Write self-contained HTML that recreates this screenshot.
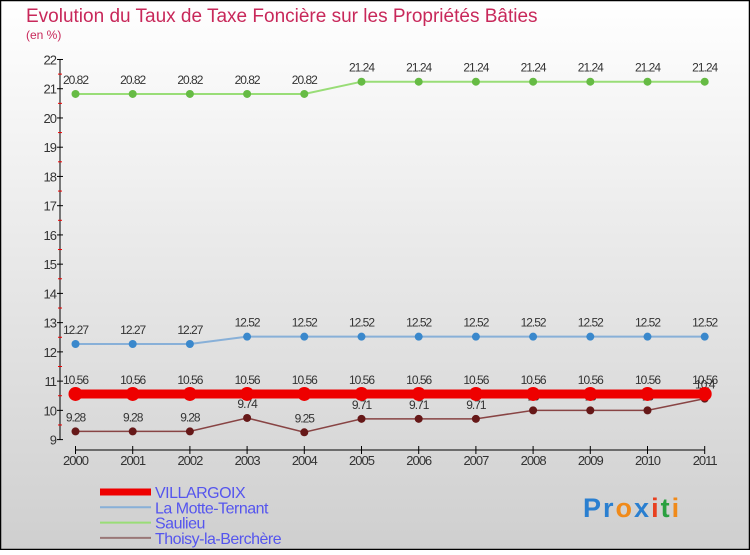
<!DOCTYPE html>
<html><head><meta charset="utf-8"><style>
html,body{margin:0;padding:0}
body{width:750px;height:550px;overflow:hidden;font-family:"Liberation Sans",sans-serif}
</style></head><body>
<svg id="chart" width="750" height="550" xmlns="http://www.w3.org/2000/svg">
<defs><linearGradient id="bg" x1="0" y1="0" x2="0" y2="1"><stop offset="0" stop-color="#ffffff"/><stop offset="1" stop-color="#cfcfcf"/></linearGradient></defs>
<rect x="0.5" y="0.5" width="749" height="549" fill="url(#bg)" stroke="#000" stroke-width="1.5"/>
<text x="26" y="22" font-size="19" fill="#c8285a">Evolution du Taux de Taxe Foncière sur les Propriétés Bâties</text>
<text x="26" y="39" font-size="12" fill="#c8285a">(en %)</text>
<g id="axes"></g>
<g id="series"></g>
<g id="legend"></g>
<text x="583" y="517" font-size="27" font-weight="bold" letter-spacing="2"><tspan fill="#2a7fd0">Pr</tspan><tspan fill="#f08a1a">o</tspan><tspan fill="#2a7fd0">x</tspan><tspan fill="#e84020">i</tspan><tspan fill="#2aa040">t</tspan><tspan fill="#f08a1a">i</tspan></text>
</svg>
<script>
const years=[2000,2001,2002,2003,2004,2005,2006,2007,2008,2009,2010,2011];
const villargoix=[10.56,10.56,10.56,10.56,10.56,10.56,10.56,10.56,10.56,10.56,10.56,10.56];
const motte=[12.27,12.27,12.27,12.52,12.52,12.52,12.52,12.52,12.52,12.52,12.52,12.52];
const saulieu=[20.82,20.82,20.82,20.82,20.82,21.24,21.24,21.24,21.24,21.24,21.24,21.24];
const thoisy=[9.28,9.28,9.28,9.74,9.25,9.71,9.71,9.71,10,10,10,10.4];
const yTicks=[9,10,11,12,13,14,15,16,17,18,19,20,21,22];
const NS="http://www.w3.org/2000/svg";
const X0=75.5,XS=57.2,Y9=439.6,YU=29.24;
const xs=i=>X0+i*XS, ys=v=>Y9-(v-9)*YU;
function mk(t,a,p){const e=document.createElementNS(NS,t);for(const k in a)e.setAttribute(k,a[k]);p.appendChild(e);return e;}
const ax=document.getElementById('axes');
let l=mk('line',{x1:60,y1:ys(22),x2:60,y2:ys(9),stroke:'#000'},ax);


yTicks.forEach(v=>{
  const t=mk('line',{x1:57,x2:63,y1:ys(v),y2:ys(v),stroke:'#000'},ax);
  
  
  if(v<22){const m=mk('line',{x1:58,x2:62,y1:ys(v+0.5),y2:ys(v+0.5),stroke:'#e00'},ax);
  
  }
  const tx=mk('text',{x:56,y:ys(v)+5,'text-anchor':'end','font-size':13,fill:'#333','letter-spacing':'-1'},ax);tx.textContent=v;
  
  
});
l=mk('line',{x1:xs(0),y1:450,x2:xs(11),y2:450,stroke:'#000'},ax);


years.forEach((y,i)=>{
  const t=mk('line',{x1:xs(i),x2:xs(i),y1:446,y2:454,stroke:'#000'},ax);
  
  
  const tx=mk('text',{x:xs(i),y:465,'text-anchor':'middle','font-size':13,fill:'#333','letter-spacing':'-1'},ax);tx.textContent=y;
  
  
});
const sg=document.getElementById('series');
const defs=[
 {d:saulieu,c:'#99dd77',p:'#66bb44',w:2,r:4,n:'saulieu'},
 {d:motte,c:'#88b0d8',p:'#3a88cc',w:2,r:4,n:'la-motte-ternant'},
 {d:thoisy,c:'#884444',p:'#661818',w:1.5,r:4,n:'thoisy-la-berchere'},
 {d:villargoix,c:'#ee0000',p:'#ee0000',w:9,r:7,n:'villargoix'}];
defs.forEach(s=>{
  const g=mk('g',{},sg);
  
  
  const pl=mk('polyline',{points:s.d.map((v,i)=>xs(i)+','+ys(v)).join(' '),fill:'none',stroke:s.c,'stroke-width':s.w},g);
  
  
  s.d.forEach((v,i)=>{
    const c=mk('circle',{cx:xs(i),cy:ys(v),r:s.r,fill:s.p},g);
    
    
    const t=mk('text',{x:xs(i),y:ys(v)-10,'text-anchor':'middle','font-size':12,fill:'#333','letter-spacing':'-1'},g);
    t.textContent=String(v);
    
    
  });
});
const lg=document.getElementById('legend');
[['VILLARGOIX','#ee0000',7],['La Motte-Ternant','#88b0d8',2],['Saulieu','#99dd77',2],['Thoisy-la-Berchère','#997777',2]].forEach((e,i)=>{
  const y=492+i*15.3;
  const ln=mk('line',{x1:100,x2:151,y1:y,y2:y,stroke:e[1],'stroke-width':e[2]},lg);
  
  
  const t=mk('text',{x:155,y:y+6,'font-size':16,fill:'#5555ee','letter-spacing':'-0.5'},lg);t.textContent=e[0];
  
  
});
</script>
</body></html>
